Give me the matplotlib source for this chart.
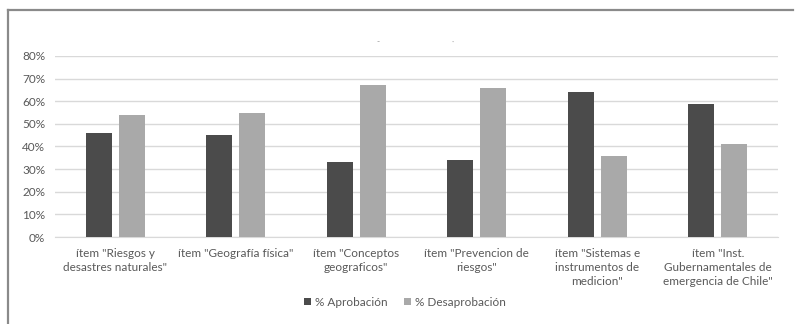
import matplotlib.pyplot as plt
import numpy as np
from matplotlib.lines import Line2D
from matplotlib.ticker import PercentFormatter

plt.rcParams['font.family'] = ['Lato', 'DejaVu Sans']

items = ['ítem "Riesgos y\ndesastres naturales"',
         'ítem "Geografía física"',
         'ítem "Conceptos\ngeograficos"',
         'ítem "Prevencion de\nriesgos"',
         'ítem "Sistemas e\ninstrumentos de\nmedicion"',
         'ítem "Inst.\nGubernamentales de\nemergencia de Chile"']
aprobacion = [0.46, 0.45, 0.33, 0.34, 0.64, 0.59]
desaprobacion = [0.54, 0.55, 0.67, 0.66, 0.36, 0.41]

dark = '#4b4b4b'
light = '#a9a9a9'
textc = '#595959'

fig = plt.figure(figsize=(7.95, 3.24), dpi=100)
ax = fig.add_axes([55 / 795, (324 - 237) / 324, (778 - 55) / 795, (237 - 56) / 324])

x = np.arange(len(items))
w = 0.215
ax.bar(x - 0.137, aprobacion, w, color=dark, label='% Aprobación', zorder=3)
ax.bar(x + 0.137, desaprobacion, w, color=light, label='% Desaprobación', zorder=3)

ax.set_xlim(-0.5, len(items) - 0.5)
ax.set_ylim(0, 0.8)
ax.set_yticks(np.arange(0, 0.81, 0.1))
ax.yaxis.set_major_formatter(PercentFormatter(1.0, decimals=0))
ax.grid(axis='y', color='#d9d9d9', linewidth=1, zorder=0)
for s in ['top', 'right', 'left']:
    ax.spines[s].set_visible(False)
ax.spines['bottom'].set_color('#d9d9d9')
ax.tick_params(axis='both', length=0, colors=textc, labelsize=8.5)
ax.tick_params(axis='y', pad=7)
ax.set_xticks(x)
ax.set_xticklabels(items, linespacing=1.35, va='top')
ax.tick_params(axis='x', pad=8)

leg = fig.legend(loc='center', bbox_to_anchor=(405 / 795, 1 - 302 / 324), ncol=2,
                 frameon=False, fontsize=8.5, handlelength=0.6, handleheight=0.6,
                 handletextpad=0.3, columnspacing=1.4)
for t in leg.get_texts():
    t.set_color(textc)

# remnants of the chart title
fig.text(378 / 795, 1 - 42 / 324, '-', color='#888888', fontsize=6, ha='center', va='center')
fig.text(453 / 795, 1 - 42 / 324, '·', color='#aaaaaa', fontsize=6, ha='center', va='center')

# outer frame (top and left edges)
fig.add_artist(Line2D([8 / 795, 8 / 795], [0, 1 - 10 / 324], color='#8a8a8a', linewidth=1.6))
fig.add_artist(Line2D([8 / 795, 793 / 795], [1 - 10 / 324, 1 - 10 / 324], color='#8a8a8a', linewidth=1.6))

fig.savefig('out.png', dpi=100)
